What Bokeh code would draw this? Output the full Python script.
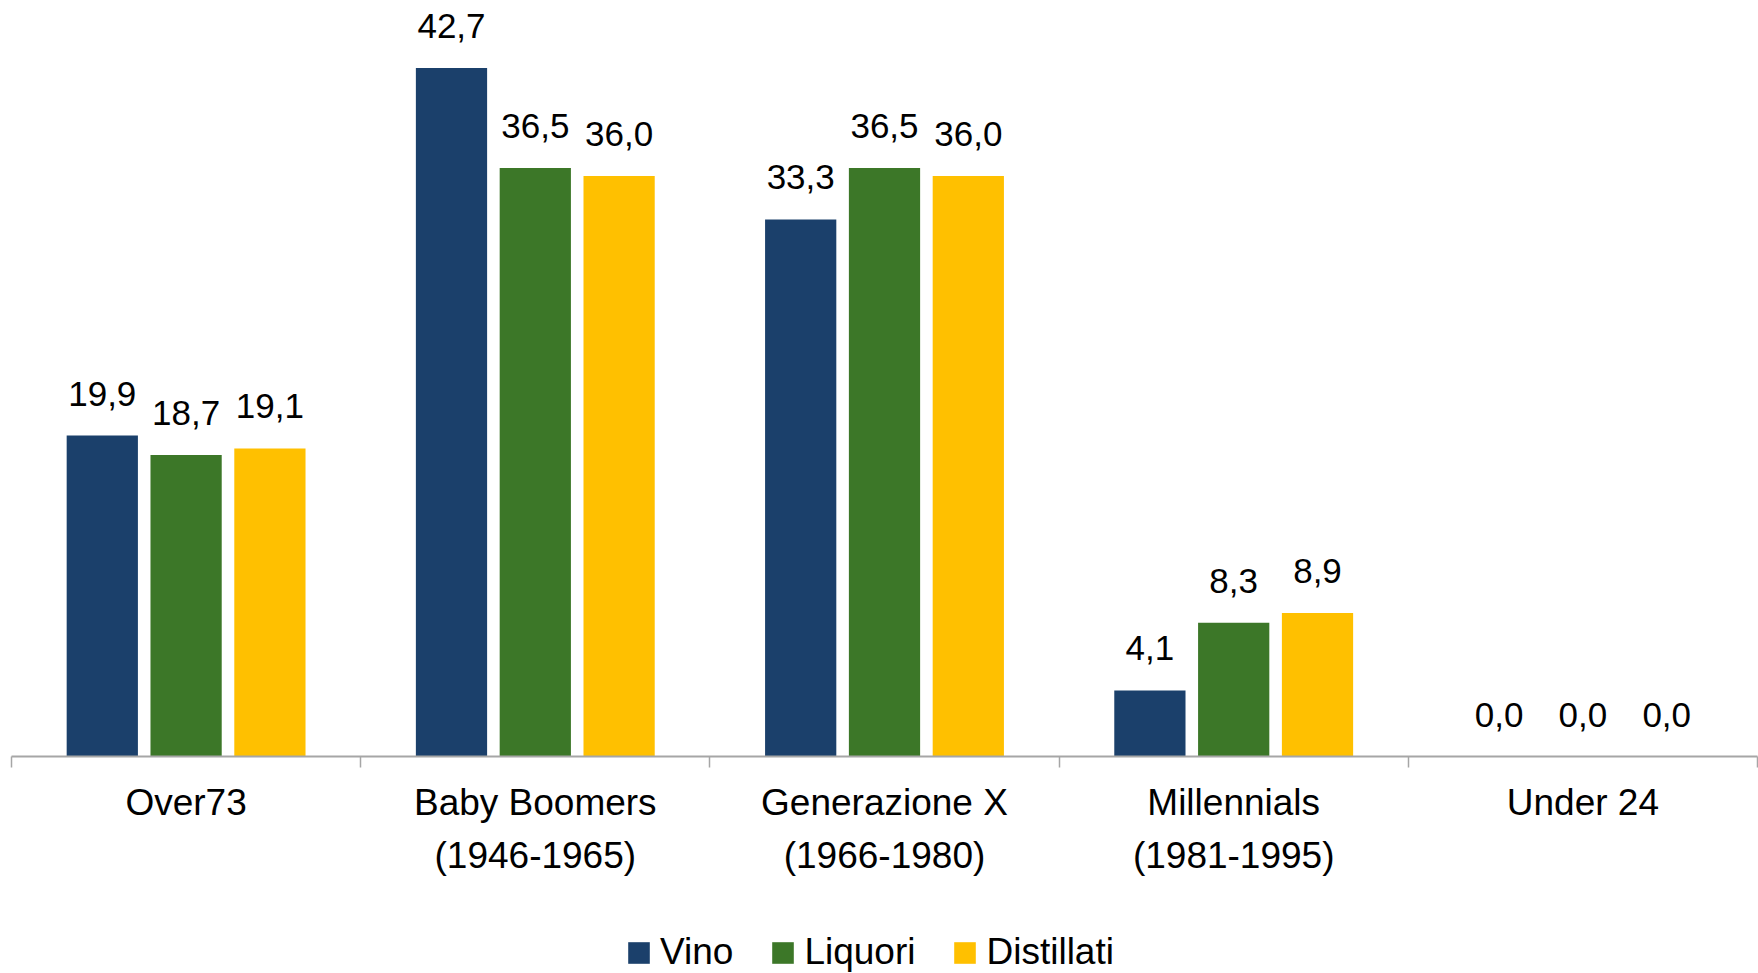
from bokeh.plotting import figure
from bokeh.layouts import column
from bokeh.models import (ColumnDataSource, FixedTicker, Range1d, Legend, LegendItem,
                          LabelSet, CustomJSTickFormatter)
from bokeh.transform import dodge
from bokeh.core.properties import value
from bokeh.embed import file_html
from bokeh.resources import INLINE

categories = ["Over73", "Baby Boomers\n(1946-1965)", "Generazione X\n(1966-1980)",
              "Millennials\n(1981-1995)", "Under 24"]
series = ["Vino", "Liquori", "Distillati"]
vino = [19.9, 42.7, 33.3, 4.1, 0.0]
liquori = [18.7, 36.5, 36.5, 8.3, 0.0]
distillati = [19.1, 36.0, 36.0, 8.9, 0.0]
colors = ["#1B406B", "#3C7728", "#FFC000"]

FONT = "Liberation Sans"
GREY = "#A6A6A6"

p = figure(width=1758, height=890, output_backend="svg", toolbar_location=None,
           x_range=Range1d(0, 5), y_range=Range1d(0, 46.88), y_axis_location=None,
           min_border_left=11, min_border_right=1, min_border_top=0, min_border_bottom=134,
           outline_line_color=None)
p.grid.visible = False

xs = [i + 0.5 for i in range(len(categories))]
offsets = [-0.24, 0.0, 0.24]
sources = []
for name, vals, col, off in zip(series, [vino, liquori, distillati], colors, offsets):
    src = ColumnDataSource(dict(x=xs, top=vals,
                                label=[f"{v:.1f}".replace(".", ",") for v in vals]))
    sources.append(src)
    p.vbar(x=dodge("x", off), top="top", width=0.204, source=src,
           fill_color=col, line_color=None)
    labels = LabelSet(x=dodge("x", off), y="top", text="label", source=src,
                      y_offset=42, text_align="center", text_baseline="middle",
                      text_font=value(FONT), text_font_size=value("35px"),
                      text_color="#000000")
    p.add_layout(labels)

ax = p.xaxis[0]
ax.ticker = FixedTicker(ticks=xs, minor_ticks=list(range(len(categories) + 1)))
ax.formatter = CustomJSTickFormatter(args=dict(labels=categories),
                                     code="return labels[Math.floor(tick)];")
ax.axis_line_color = GREY
ax.axis_line_width = 2
ax.major_tick_in = 0
ax.major_tick_out = 0
ax.minor_tick_in = 0
ax.minor_tick_out = 11
ax.minor_tick_line_color = GREY
ax.minor_tick_line_width = 1.5
ax.major_label_standoff = 14
ax.major_label_text_font = FONT
ax.major_label_text_font_size = "37px"
ax.major_label_text_color = "#000000"
ax.major_label_text_line_height = 1.3

# legend strip below the chart (its bars lie outside its visible range)
pl = figure(width=1758, height=83, output_backend="svg", toolbar_location=None,
            x_range=Range1d(100, 101), y_range=Range1d(100, 101),
            x_axis_location=None, y_axis_location=None,
            min_border=0, outline_line_color=None)
pl.grid.visible = False
items = []
for name, col, src in zip(series, colors, sources):
    r = pl.vbar(x="x", top="top", width=0.204, source=src,
                fill_color=col, line_color=None)
    items.append(LegendItem(label=name, renderers=[r], index=0))
legend = Legend(items=items, orientation="horizontal", location=(614, 0),
                label_text_font=FONT, label_text_font_size="37px",
                label_text_color="#000000", glyph_width=27, glyph_height=27,
                label_standoff=8, spacing=36, border_line_color=None,
                background_fill_alpha=0, margin=0, padding=0)
pl.add_layout(legend, "center")

open("out.html", "w").write(file_html(column(p, pl, spacing=0), INLINE))
